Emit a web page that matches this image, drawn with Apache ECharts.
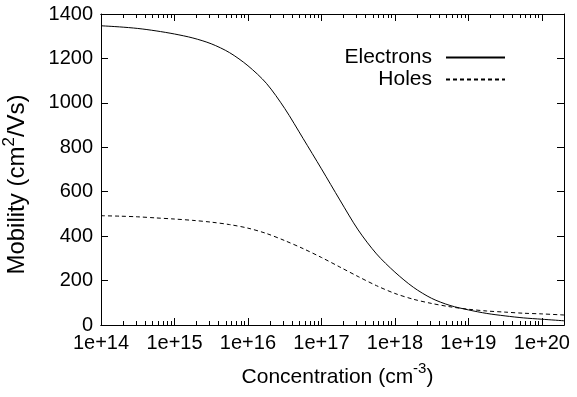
<!DOCTYPE html>
<html>
<head>
<meta charset="utf-8">
<script src="https://cdn.jsdelivr.net/npm/echarts@6/dist/echarts.min.js"></script>
<style>
html, body { margin: 0; padding: 0; background: #fff; }
#chart { width: 577px; height: 397px; }
</style>
</head>
<body>
<div id="chart"></div>
<script>
// concentration (cm^-3), quarter-decade steps, and mobility (cm^2/Vs)
var conc = [1e14, 1.78e14, 3.16e14, 5.62e14, 1e15, 1.78e15, 3.16e15, 5.62e15, 1e16, 1.78e16, 3.16e16, 5.62e16,
	1e17, 1.78e17, 3.16e17, 5.62e17, 1e18, 1.78e18, 3.16e18, 5.62e18, 1e19, 1.78e19, 3.16e19, 5.62e19, 1e20, 2e20];
var elecMob = [1347, 1342, 1335, 1324, 1310, 1292, 1266, 1226, 1167, 1088, 975, 840,
	703, 563, 428, 320, 238, 170, 120, 88, 68, 52, 41, 32, 26, 19];
var holeMob = [492, 490, 487, 482, 477, 471, 463, 452, 436, 412, 380, 344,
	304, 261, 218, 177, 142, 116, 97, 82, 71, 63, 58, 53, 50, 45];

// x axis works in log10 space (decade exponents)
var decades = [14, 15, 16, 17, 18, 19, 20];
var xMin = 14, xMax = Math.log10(2e20);
var minorTicks = [];
decades.forEach(function (d) {
	for (var k = 2; k <= 9; k++) {
		var v = d + Math.log10(k);
		if (v < xMax) minorTicks.push(v);
	}
});

var FONT = 'Liberation Sans';

function toPts(xs, ys) {
	return xs.map(function (c, i) { return [Math.log10(c), ys[i]]; });
}

function xAx(pos, ticks, len, labels) {
	return {
		type: 'value', position: pos, min: xMin, max: xMax,
		axisLine: { show: true, onZero: false, lineStyle: { color: '#000', width: 1 } },
		axisTick: { show: true, inside: true, length: len, customValues: ticks, lineStyle: { color: '#000', width: 1 } },
		axisLabel: {
			show: labels, customValues: ticks, margin: 8,
			fontSize: 20, color: '#000', fontFamily: FONT,
			formatter: function (v) { return '1e+' + Math.round(v); }
		},
		splitLine: { show: false }
	};
}

function yAx(pos, labels) {
	return {
		type: 'value', position: pos, min: 0, max: 1400, interval: 200,
		axisLine: { show: true, onZero: false, lineStyle: { color: '#000', width: 1 } },
		axisTick: { show: true, inside: true, length: 7, lineStyle: { color: '#000', width: 1 } },
		axisLabel: {
			show: labels, margin: 8, fontSize: 20, color: '#000', fontFamily: FONT,
			formatter: function (v) { return String(v); }
		},
		splitLine: { show: false }
	};
}

function nameStyle(size, pad) {
	return {
		fontSize: size, color: '#000', fontFamily: FONT, lineHeight: 32, padding: pad,
		rich: { sup: { fontSize: Math.round(size * 0.72), lineHeight: 16, verticalAlign: 'top', color: '#000', fontFamily: FONT } }
	};
}

var xMain = xAx('bottom', decades, 7, true);
xMain.name = 'Concentration (cm{sup|-3})';
xMain.nameLocation = 'middle';
xMain.nameGap = 36;
xMain.nameTextStyle = nameStyle(21, [0, 0, 0, 10]);

var yMain = yAx('left', true);
yMain.name = 'Mobility (cm{sup|2}/Vs)';
yMain.nameLocation = 'middle';
yMain.nameGap = 68;
yMain.nameRotate = 90;
yMain.nameTextStyle = nameStyle(24, [0, 30, 0, 0]);

function legendAt(name, top) {
	return {
		data: [name], right: 71, top: top, orient: 'vertical', align: 'right',
		padding: 0, itemWidth: 59, itemHeight: 20, selectedMode: false,
		itemStyle: { opacity: 0, borderWidth: 0 },
		textStyle: { fontSize: 21, color: '#000', fontFamily: FONT, padding: [0, 9, 0, 0] }
	};
}

var chart = echarts.init(document.getElementById('chart'));
chart.setOption({
	animation: false,
	backgroundColor: '#fff',
	textStyle: { fontFamily: FONT },
	grid: { left: 101, right: 13, top: 14, bottom: 72, containLabel: false, outerBoundsMode: 'none' },
	legend: [legendAt('Electrons', 47), legendAt('Holes', 69)],
	xAxis: [
		xMain,
		xAx('bottom', minorTicks, 4, false),
		xAx('top', decades, 7, false),
		xAx('top', minorTicks, 4, false)
	],
	yAxis: [yMain, yAx('right', false)],
	series: [{
		name: 'Electrons', type: 'line', xAxisIndex: 0, yAxisIndex: 0,
		data: toPts(conc, elecMob),
		smooth: 0.3, showSymbol: false, symbol: 'none',
		lineStyle: { color: '#000', width: 1 }, itemStyle: { color: '#000' }
	}, {
		name: 'Holes', type: 'line', xAxisIndex: 0, yAxisIndex: 0,
		data: toPts(conc, holeMob),
		smooth: 0.3, showSymbol: false, symbol: 'none',
		lineStyle: { color: '#000', width: 1, type: [4, 3] }, itemStyle: { color: '#000' }
	}]
});
</script>
</body>
</html>
